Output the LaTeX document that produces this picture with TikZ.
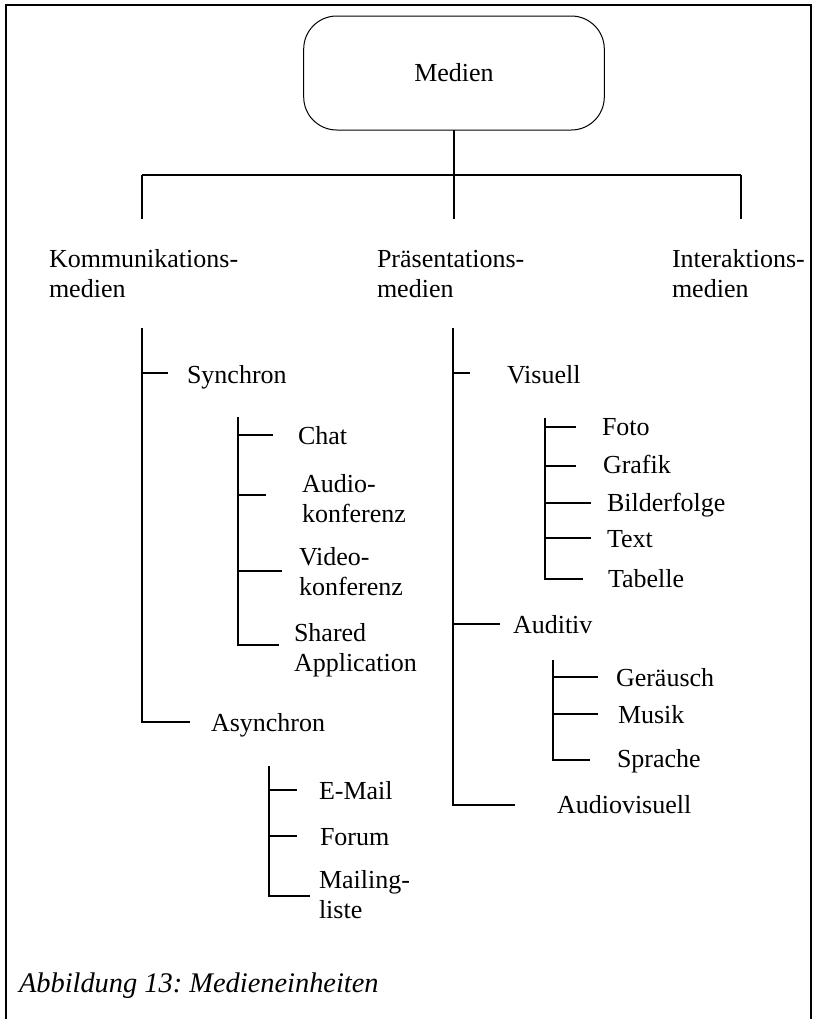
\documentclass[tikz,border=0pt]{standalone}
\usepackage{fontspec}
\setmainfont{Liberation Serif}
\frenchspacing
% two-line label whose baseline is that of its first line
\newcommand\twolines[2]{\begin{tabular}[t]{@{}l@{}}#1\\#2\end{tabular}}
\begin{document}
\begin{tikzpicture}[x=0.5pt,y=-0.5pt,
  every node/.style={inner sep=0pt, outer sep=0pt},
  txt/.style={font=\fontsize{13}{15.3}\selectfont},
  lbl/.style={txt, anchor=base west},
  caption/.style={anchor=base west, font=\fontsize{14.2}{17}\selectfont\itshape},
  rootbox/.style={txt, draw, line width=0.5pt, rounded corners=16.5pt,
    minimum width=150.3pt, minimum height=57pt},
  tree/.style={draw=black, line width=0.55pt}]
\useasboundingbox (0,0) rectangle (816,1019);

% frame
\draw[tree] (6,1019) -- (6,5) -- (811,5) -- (811,1019);

% root
\node[rootbox] (medien) at (454,73) {Medien};

% first level
\node[lbl] (komm) at (49,267) {\twolines{Kommunikations-}{medien}};
\node[lbl] (praes) at (377,267) {\twolines{Präsentations-}{medien}};
\node[lbl] (inter) at (672,267) {\twolines{Interaktions-}{medien}};

\coordinate (bar) at (454,175);
\coordinate (barL) at (142,175);
\coordinate (barR) at (741,175);
\draw[tree] (medien.south) -- (bar);
\draw[tree] (barL) -- (barR);
\draw[tree] (barL) -- ++(0,44);
\draw[tree] (bar) -- ++(0,44);
\draw[tree] (barR) -- ++(0,44);

% Kommunikationsmedien
\node[lbl] (sync) at (187,383) {Synchron};
\node[lbl] (async) at (211,731) {Asynchron};
\coordinate (kspine) at (142,328);
\draw[tree] (kspine) |- (190,722);
\draw[tree] (142,373) -- (168,373);

\node[lbl] (chat) at (298,444) {Chat};
\node[lbl] (audiok) at (302,492) {\twolines{Audio-}{konferenz}};
\node[lbl] (videok) at (299,565) {\twolines{Video-}{konferenz}};
\node[lbl] (shared) at (294,641) {\twolines{Shared}{Application}};
\coordinate (sspine) at (238,417);
\draw[tree] (sspine) |- (279,645);
\draw[tree] (238,435) -- (273,435);
\draw[tree] (238,495) -- (266,495);
\draw[tree] (238,571) -- (282,571);

\node[lbl] (email) at (319,799) {E-Mail};
\node[lbl] (forum) at (320,845) {Forum};
\node[lbl] (mailing) at (319,888) {\twolines{Mailing-}{liste}};
\coordinate (aspine) at (269,766);
\draw[tree] (aspine) |- (310,896);
\draw[tree] (269,790) -- (297,790);
\draw[tree] (269,836) -- (297,836);

% Präsentationsmedien
\node[lbl] (visuell) at (507,383) {Visuell};
\node[lbl] (auditiv) at (513,633) {Auditiv};
\node[lbl] (audiovis) at (557,813) {Audiovisuell};
\coordinate (pspine) at (453,328);
\draw[tree] (pspine) |- (515,805);
\draw[tree] (453,373) -- (470,373);
\draw[tree] (453,624) -- (500,624);

\node[lbl] (foto) at (602,435) {Foto};
\node[lbl] (grafik) at (603,473) {Grafik};
\node[lbl] (bilder) at (607,511) {Bilderfolge};
\node[lbl] (text) at (607,547) {Text};
\node[lbl] (tabelle) at (608,587) {Tabelle};
\coordinate (vspine) at (545,418);
\draw[tree] (vspine) |- (583,579);
\draw[tree] (545,427) -- (576,427);
\draw[tree] (545,466) -- (576,466);
\draw[tree] (545,503) -- (591,503);
\draw[tree] (545,538) -- (591,538);

\node[lbl] (geraeusch) at (616,686) {Geräusch};
\node[lbl] (musik) at (618,723) {Musik};
\node[lbl] (sprache) at (617,767) {Sprache};
\coordinate (aud) at (553,660);
\draw[tree] (aud) |- (590,760);
\draw[tree] (553,677) -- (598,677);
\draw[tree] (553,714) -- (598,714);

% caption
\node[caption] (cap) at (19,992) {Abbildung 13: Medieneinheiten};
\end{tikzpicture}
\end{document}
